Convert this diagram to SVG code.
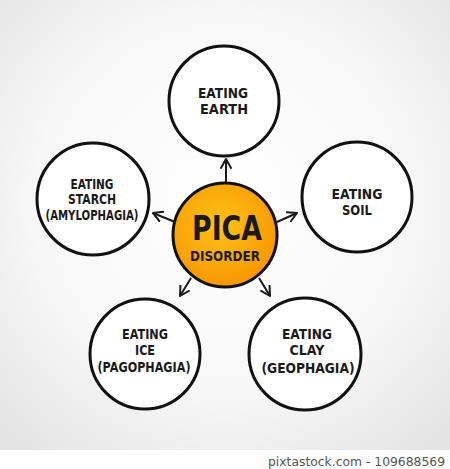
<svg xmlns="http://www.w3.org/2000/svg" width="450" height="469" viewBox="0 0 450 469">
<defs>
<radialGradient id="bg" cx="0.5" cy="0.45" r="0.7">
<stop offset="0" stop-color="#ffffff"/>
<stop offset="0.6" stop-color="#f7f7f7"/>
<stop offset="1" stop-color="#e4e4e4"/>
</radialGradient>
<radialGradient id="org" cx="0.45" cy="0.4" r="0.6">
<stop offset="0" stop-color="#ffc21a"/>
<stop offset="1" stop-color="#f79800"/>
</radialGradient>
<marker id="ah" viewBox="0 0 12 12" refX="10" refY="6" markerWidth="12" markerHeight="12" markerUnits="userSpaceOnUse" orient="auto">
<path d="M1,1 L10,6 L1,11" fill="none" stroke="#1a1a1a" stroke-width="2" stroke-linecap="round" stroke-linejoin="round"/>
</marker>
<style>
.c{fill:#fff;stroke:#111;stroke-width:3}
.t{font-family:"DejaVu Sans",sans-serif;font-weight:bold;font-size:14px;fill:#1a1a1a;text-anchor:middle}
.a{stroke:#1a1a1a;stroke-width:2;fill:none;marker-end:url(#ah)}
</style>
</defs>
<rect x="0" y="0" width="450" height="450" fill="url(#bg)"/>
<rect x="0" y="450" width="450" height="19" fill="#fff"/>
<g id="connectors">
<line class="a" x1="226" y1="183" x2="226" y2="159"/>
<line class="a" x1="175" y1="222" x2="153" y2="213"/>
<line class="a" x1="277" y1="222" x2="297" y2="213"/>
<line class="a" x1="191" y1="278" x2="180" y2="296"/>
<line class="a" x1="259" y1="278" x2="270" y2="296"/>
</g>
<g id="earth">
<circle class="c" cx="224" cy="101" r="55"/>
<text class="t" x="223" y="98" textLength="50" lengthAdjust="spacingAndGlyphs">EATING</text>
<text class="t" x="224" y="114" textLength="48" lengthAdjust="spacingAndGlyphs">EARTH</text>
</g>
<g id="starch">
<circle class="c" cx="93" cy="199" r="56"/>
<text class="t" x="92" y="189" textLength="43" lengthAdjust="spacingAndGlyphs">EATING</text>
<text class="t" x="92" y="204" textLength="48" lengthAdjust="spacingAndGlyphs">STARCH</text>
<text class="t" x="92" y="220" textLength="93" lengthAdjust="spacingAndGlyphs">(AMYLOPHAGIA)</text>
</g>
<g id="soil">
<circle class="c" cx="357" cy="197" r="55"/>
<text class="t" x="357" y="199" textLength="51" lengthAdjust="spacingAndGlyphs">EATING</text>
<text class="t" x="357" y="215" textLength="30" lengthAdjust="spacingAndGlyphs">SOIL</text>
</g>
<g id="ice">
<circle class="c" cx="145" cy="354" r="55"/>
<text class="t" x="145" y="339" textLength="46" lengthAdjust="spacingAndGlyphs">EATING</text>
<text class="t" x="145" y="355" textLength="20" lengthAdjust="spacingAndGlyphs">ICE</text>
<text class="t" x="144" y="372" textLength="93" lengthAdjust="spacingAndGlyphs">(PAGOPHAGIA)</text>
</g>
<g id="clay">
<circle class="c" cx="305" cy="354" r="56"/>
<text class="t" x="307" y="339" textLength="50" lengthAdjust="spacingAndGlyphs">EATING</text>
<text class="t" x="307" y="355" textLength="35" lengthAdjust="spacingAndGlyphs">CLAY</text>
<text class="t" x="308" y="373" textLength="93" lengthAdjust="spacingAndGlyphs">(GEOPHAGIA)</text>
</g>
<g id="pica">
<circle cx="225" cy="235" r="52" fill="url(#org)" stroke="#111" stroke-width="3"/>
<text class="t" x="227" y="240" textLength="70" lengthAdjust="spacingAndGlyphs" style="font-size:33px">PICA</text>
<text class="t" x="225" y="261" textLength="70" lengthAdjust="spacingAndGlyphs" style="font-size:14px">DISORDER</text>
</g>
<text x="268" y="466" font-family="'DejaVu Sans',sans-serif" font-size="12.5" fill="#555" textLength="177" lengthAdjust="spacingAndGlyphs">pixtastock.com - 109688569</text>
</svg>
